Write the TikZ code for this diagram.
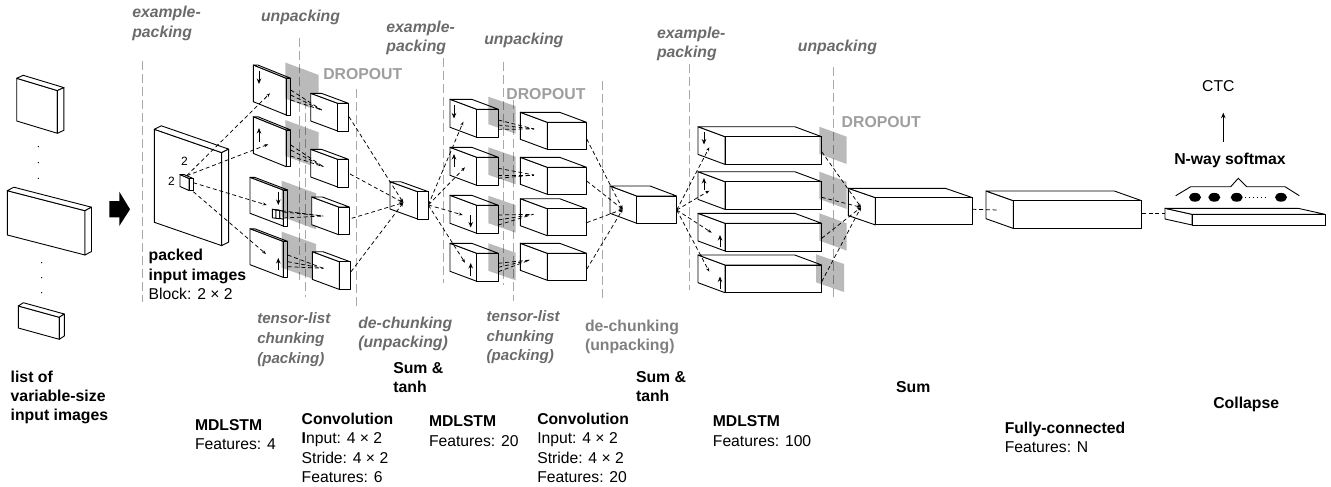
\documentclass[tikz,border=0pt]{standalone}
\usepackage{fontspec}
\setmainfont{Liberation Sans}
\usetikzlibrary{arrows.meta}
\definecolor{labgray}{gray}{0.42}
\definecolor{labgrayb}{gray}{0.5}
\definecolor{dropgray}{gray}{0.62}
\definecolor{guide}{gray}{0.66}
\newcommand{\cub}[8]{%
  \path (#2,#3) coordinate (#1) ++(#4,#5) coordinate (#1a) ++(#6,#7) coordinate (#1b) ++(0,#8) coordinate (#1c);
  \path (#1a) ++(0,#8) coordinate (#1d);
  \path (#1) ++(#6,#7) coordinate (#1e);
  \path (#1) ++(0,#8) coordinate (#1f);
  \filldraw[boxface] (#1) -- (#1a) -- (#1d) -- (#1f) -- cycle;
  \filldraw[boxface] (#1) -- (#1a) -- (#1b) -- (#1e) -- cycle;
  \filldraw[boxface] (#1a) -- (#1b) -- (#1c) -- (#1d) -- cycle;
}
\newcommand{\drop}[5]{\fill[dropsheet] (#1,#2) -- ++(#3,#4) -- ++(0,#5) -- ++(-#3,-#4) -- cycle;}
\tikzset{
  x=1pt,y=-1pt,
  boxface/.style={draw=black,fill=white,line width=0.9pt,line join=round},
  dropsheet/.style={fill=black,fill opacity=0.27},
  guideline/.style={draw=guide,line width=1pt,dash pattern=on 9pt off 4pt},
  dl/.style={draw=black,line width=0.75pt,dash pattern=on 4pt off 2.8pt,-{Stealth[length=4pt,width=3pt]}},
  dn/.style={draw=black,line width=0.75pt,dash pattern=on 4pt off 2.8pt},
  dirarrow/.style={draw=black,line width=0.9pt,-{Stealth[length=5.5pt,width=4.5pt]}},
  lab/.style={inner sep=0pt,outer sep=0pt,anchor=north west,align=left,font=\fontsize{15.7}{19.2}\selectfont},
  labb/.style={lab,font=\fontsize{15.8}{19.2}\selectfont\bfseries},
  labi/.style={lab,text=labgray,font=\fontsize{15.8}{19.2}\selectfont\bfseries\itshape},
  labu/.style={lab,text=labgrayb,font=\fontsize{15.8}{19.2}\selectfont\bfseries},
  labd/.style={lab,text=dropgray,font=\fontsize{15.8}{19.2}\selectfont\bfseries},
}
\begin{document}
\begin{tikzpicture}
\useasboundingbox (0,0) rectangle (1331,487);
% guide lines
\foreach \n/\gx/\gt/\gb in {a/142/61/302,b/299/38/280,c/305/100/297,d/356.3/89/308,e/443.3/58/283,f/503.3/62/285,g/513.3/100/301,h/602.7/81/302,i/689.3/64/290,j/833/67/299}{
  \draw[guideline] (\gx,\gt) coordinate (g\n t) -- (\gx,\gb) coordinate (g\n b);
}
% input images
\cub{ia}{16.7}{78.3}{40.7}{12.3}{6.5}{-3}{42.7}
\cub{ib}{7.3}{190.7}{77.7}{20}{6.5}{-3.5}{44.3}
\cub{ic}{18.3}{306}{41}{11.3}{5}{-3.3}{22}
\foreach \dx/\dy in {38.3/146.7,38.3/162.7,38.3/178.3,41.7/262.7,41.7/277.7,41.7/292.7}{\fill (\dx,\dy) circle (0.7pt);}
% big arrow
\fill (109.3,201) -- (119.3,201) -- (119.3,191.7) -- (130,209.3) -- (119.3,226) -- (119.3,217.3) -- (109.3,217.3) -- cycle;
% packed
\cub{pk}{154.3}{129.3}{67.3}{23.3}{7}{-3.5}{93}
\cub{pb}{180}{174.5}{9}{4}{4}{0}{12}
\node[lab,font=\fontsize{12}{14}\selectfont] (two1) at (181,157) {2};
\node[lab,font=\fontsize{12}{14}\selectfont] (two2) at (168,177) {2};
% layer 1
\cub{sa}{253.3}{65}{33}{13.3}{4.5}{0}{36.7}
\cub{sb}{253.3}{116.7}{33}{13.3}{4.5}{0}{36.7}
\cub{sc}{250}{177.3}{33.3}{12.7}{4.5}{0}{36}
\cub{sd}{250}{228.7}{33.3}{12.7}{4.5}{0}{36}
\cub{sx}{272.3}{209.3}{3.7}{0.5}{3.7}{0.5}{8.5}
\draw[boxface,fill=none] (279.7,210.3) -- (283.3,211.3) -- (283.3,219.3) -- (279.7,218.3) -- cycle;
\drop{285.3}{62.5}{33.4}{12.5}{36}
\drop{285.3}{120}{33.4}{12.3}{36}
\drop{281.7}{180.7}{34.3}{12.6}{36}
\drop{281.7}{231.7}{34.3}{12.3}{36}
\cub{ca}{310.7}{93.3}{27}{10}{10.7}{0}{27.7}
\cub{cb}{310.7}{149.3}{27}{10}{10.7}{0}{27.7}
\cub{cc}{311.7}{197}{27}{10}{10.7}{0}{27.7}
\cub{cd}{312.3}{251.7}{27}{10}{10.7}{0}{27.7}
% arrows in layer 1
\draw[dirarrow] (259,70.7) -- (259,84);
\draw[dirarrow] (259,141.7) -- (259,128);
\draw[dirarrow] (278.3,191.7) -- (278.3,205);
\draw[dirarrow] (278.3,270) -- (278.3,258);
% packed to layer 1
\coordinate (pout1) at (186.7,175.7);
\coordinate (pout2) at (193.3,182.7);
\coordinate (pout3) at (193.3,191.7);
\coordinate (sat) at (270,93.3);
\coordinate (sbt) at (268.3,144.3);
\coordinate (sct) at (266.7,205);
\coordinate (sdt) at (266,254);
\draw[dl] (pout1) -- (sat);
\draw[dl] (pout1) -- (sbt);
\draw[dl] (pout2) -- (sct);
\draw[dl] (pout3) -- (sdt);
% layer 1 to conv
\coordinate (cat) at (321.7,110);
\coordinate (cbt) at (323.3,166.7);
\coordinate (cct) at (323.3,216);
\coordinate (cdt) at (323.3,268.3);
\foreach \y in {90,95,100}{\draw[dn] (290.7,\y) coordinate (fa\y) -- (cat);}
\foreach \y in {145,150,156}{\draw[dn] (290.7,\y) coordinate (fb\y) -- (cbt);}
\foreach \x/\y in {275/210,283.3/218,283.3/212}{\draw[dn] (\x,\y) coordinate (fc) -- (cct);}
\foreach \y in {255,261.7,266.7}{\draw[dn] (287.7,\y) coordinate (fd\y) -- (cdt);}
% sum 1
\cub{da}{390}{181.7}{27.7}{10}{10.7}{0}{27.3}
\coordinate (dt) at (403.3,202.7);
\coordinate (do) at (428.3,205);
\foreach \n/\x/\y in {a/349/116.7,b/350/174,c/351.7/218.3,d/351/271.7}{
  \coordinate (co\n) at (\x,\y);
  \draw[dl] (co\n) -- (dt);
}
% layer 2
\cub{la}{450}{99.3}{26.7}{10}{21.7}{0}{28}
\cub{lb}{450}{147.3}{26.7}{10}{21.7}{0}{28}
\cub{lc}{450}{195.3}{26.7}{10}{21.7}{0}{28}
\cub{ld}{450}{243.3}{26.7}{10}{21.7}{0}{28}
\drop{488.3}{96.7}{27.4}{9.5}{27.5}
\drop{488.3}{147.3}{27.4}{9.5}{27.5}
\drop{488.3}{195.7}{27.4}{9.5}{27.5}
\drop{488.3}{243.3}{27.4}{9.5}{27.5}
\draw[dirarrow] (454,105) -- (454,118.5);
\draw[dirarrow] (454,166.7) -- (454,154);
\draw[dirarrow] (470.7,215) -- (470.7,227.5);
\draw[dirarrow] (470.7,275.7) -- (470.7,263);
\foreach \n/\x/\y in {a/463.3/121.7,b/465/167.3,c/462.7/215,d/465/262.7}{
  \coordinate (lt\n) at (\x,\y);
  \draw[dl] (do) -- (lt\n);
}
% conv 2
\cub{ma}{520.3}{112.3}{27}{10}{39.3}{0}{27}
\cub{mb}{520.3}{157.3}{27}{10}{39.3}{0}{27}
\cub{mc}{520.3}{198.7}{27}{10}{39.3}{0}{27}
\cub{md}{520.3}{243.3}{27}{10}{39.3}{0}{27}
\coordinate (mat) at (534,129);
\coordinate (mbt) at (534,175);
\coordinate (mct) at (533.3,214.3);
\coordinate (mdt) at (530,260);
\foreach \y in {120,125,129.3}{\draw[dn] (498.3,\y) coordinate (ga) -- (mat);}
\foreach \y in {168.3,175,178.3}{\draw[dn] (498.3,\y) coordinate (gb) -- (mbt);}
\foreach \y in {215,220,225}{\draw[dn] (498.3,\y) coordinate (gc) -- (mct);}
\foreach \y in {263.3,267.3,271.7}{\draw[dn] (498.3,\y) coordinate (gd) -- (mdt);}
% sum 2
\cub{na}{610}{186}{26.7}{10}{40}{0}{27.3}
\coordinate (nt) at (622.7,209.3);
\coordinate (no) at (676.7,210);
\foreach \n/\y in {a/139,b/181,c/222.7,d/269.3}{
  \coordinate (mo\n) at (586.7,\y);
  \draw[dl] (mo\n) -- (nt);
}
% layer 3
\cub{ra}{698}{126.7}{27}{10}{96.7}{0}{27.7}
\cub{rb}{698}{171.7}{27}{10}{96.7}{0}{27.7}
\cub{rc}{698}{213.3}{27}{10}{96.7}{0}{27.7}
\cub{rd}{698}{255}{27}{10}{96.7}{0}{27.7}
\drop{819.3}{126.7}{27.4}{10}{27.3}
\drop{819.3}{171.7}{27.4}{10}{27.3}
\drop{819.3}{213.3}{27.4}{10}{27.3}
\drop{816}{254.3}{28}{9.7}{28}
\draw[dirarrow] (704,131.7) -- (704,144.5);
\draw[dirarrow] (704,190) -- (704,178);
\draw[dirarrow] (720,247.3) -- (720,235);
\draw[dirarrow] (720,289) -- (720,276.5);
\foreach \n/\x/\y in {a/709.3/147.3,b/709.3/190.7,c/711.7/232.7,d/709.3/271.7}{
  \coordinate (rt\n) at (\x,\y);
  \draw[dl] (no) -- (rt\n);
}
% sum 3
\cub{ta}{848.3}{188.3}{27}{9.3}{97}{0}{27.3}
\coordinate (tt) at (861,207.3);
\coordinate (too) at (972.3,209.3);
\foreach \n/\y in {a/151.7,b/197.3,c/238.3,d/281.7}{
  \coordinate (ro\n) at (821.7,\y);
  \draw[dl] (ro\n) -- (tt);
}
% fully connected
\cub{ua}{986}{191}{27.3}{9.7}{128.3}{0}{27.7}
\coordinate (ut) at (998.3,210);
\draw[dn] (too) -- (ut);
\coordinate (uo) at (1141.7,213.3);
% collapse
\cub{va}{1165}{208.3}{27}{6}{133}{0}{10.7}
\coordinate (vi) at (1165,213.3);
\draw[dn] (uo) -- (vi);
\foreach \cx in {1195,1214.3,1236.7,1281}{\fill (\cx,197.3) ellipse (6pt and 4.4pt);}
\draw[black,line width=1pt,dash pattern=on 1.3pt off 2.6pt] (1245,197.7) -- (1268,197.7);
\draw[black,line width=0.9pt] (1175.7,195.7) -- (1190.7,186.7) -- (1230.7,186.7) -- (1238.3,178.3) -- (1246.7,186.7) -- (1285,186.7) -- (1299.3,195.7);
% softmax
\node[lab,anchor=center] (ctc) at (1218.3,85.7) {CTC};
\node[labb,anchor=center] (nway) at (1230,160) {N-way softmax};
\coordinate (ctcin) at (1223.3,112.7);
\coordinate (nwayout) at (1223.3,141.7);
\draw[dirarrow,line width=0.8pt] (nwayout) -- (ctcin);
% labels
\node[labi] (l1) at (132.3,6.5) {example-\\packing};
\node[labi] (l2) at (261,10.5) {unpacking};
\node[labi] (l3) at (386.4,21) {example-\\packing};
\node[labi] (l4) at (484.3,33) {unpacking};
\node[labi] (l5) at (657,27) {example-\\packing};
\node[labi] (l6) at (797.9,40) {unpacking};
\node[labd] (d1) at (323.3,68.5) {DROPOUT};
\node[labd] (d2) at (506.4,88.5) {DROPOUT};
\node[labd] (d3) at (841.7,116.5) {DROPOUT};
\node[labi,font=\fontsize{15.1}{20}\selectfont\bfseries\itshape] (t1) at (257.3,313) {tensor-list\\chunking\\(packing)};
\node[labi,font=\fontsize{15.1}{19.6}\selectfont\bfseries\itshape] (t2) at (486.7,310.5) {tensor-list\\chunking\\(packing)};
\node[labi] (u1) at (358.3,317) {de-chunking\\(unpacking)};
\node[labu] (u2) at (585,320) {de-chunking\\(unpacking)};
\node[labb] (n1) at (148.7,249.5) {packed\\input images};
\node[lab] (n2) at (148.7,288) {Block: 2 × 2};
\node[labb] (n3) at (10.7,371) {list of\\variable-size\\input images};
\node[labb] (n4) at (393.3,362) {Sum \&\\tanh};
\node[labb] (n5) at (636,371) {Sum \&\\tanh};
\node[labb] (n6) at (896.2,381) {Sum};
\node[labb] (n7) at (1213.3,397) {Collapse};
\node[lab] (n8) at (195,419.3) {\textbf{MDLSTM}\\Features: 4};
\node[lab] (n9) at (301.7,413.3) {\textbf{Convolution}\\\textbf{I}nput: 4 × 2\\Stride: 4 × 2\\Features: 6};
\node[lab] (n10) at (429,416) {\textbf{MDLSTM}\\Features: 20};
\node[lab] (n11) at (537.3,413.3) {\textbf{Convolution}\\Input: 4 × 2\\Stride: 4 × 2\\Features: 20};
\node[lab] (n12) at (712.9,416) {\textbf{MDLSTM}\\Features: 100};
\node[lab] (n13) at (1004.8,422) {\textbf{Fully-connected}\\Features: N};
\end{tikzpicture}
\end{document}
